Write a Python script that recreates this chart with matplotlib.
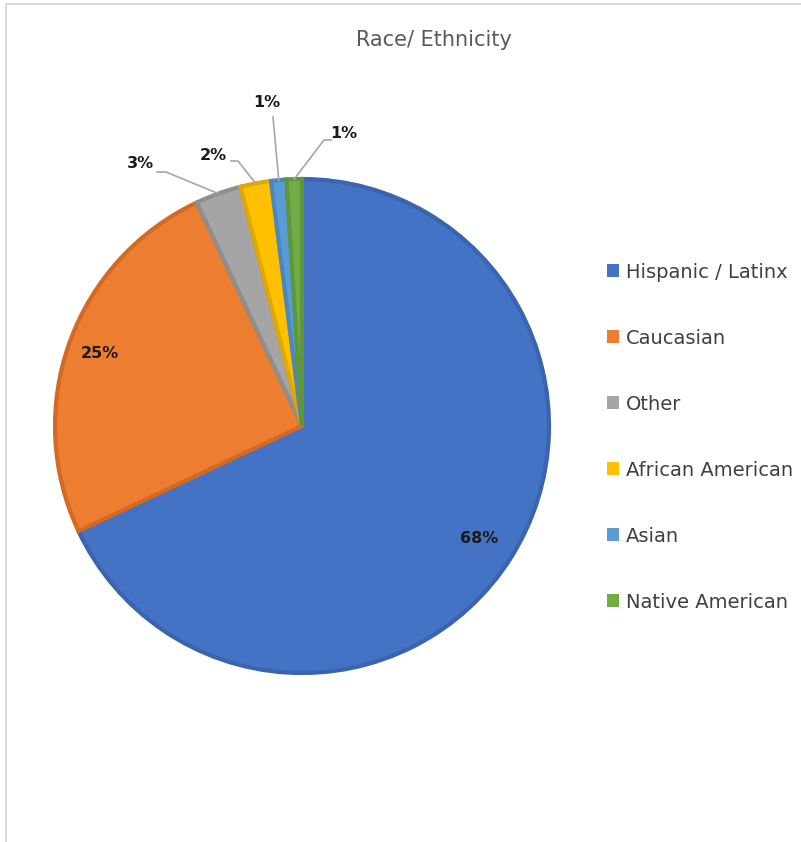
import numpy as np
import matplotlib
matplotlib.use("Agg")
import matplotlib.pyplot as plt
from matplotlib.patches import Patch
from matplotlib.lines import Line2D

categories = ["Hispanic / Latinx", "Caucasian", "Other", "African American",
              "Asian", "Native American"]
shares = [68, 25, 3, 2, 1, 1]
colors = ["#4472C4", "#ED7D31", "#A5A5A5", "#FFC000", "#5B9BD5", "#70AD47"]
edges = ["#3A64AE", "#D26A24", "#8E8E8E", "#E0A800", "#4C88C0", "#5F963A"]

W, H, DPI = 801, 842, 100
CX, CY, R = 302, 426, 247   # pie centre / radius in pixels


def px(x, y):
    # pixel position -> data units (pie radius = 1)
    return (x - CX) / R, (CY - y) / R


fig = plt.figure(figsize=(W / DPI, H / DPI), dpi=DPI)
ax = fig.add_axes([0, 0, 1, 1])

wedges, _ = ax.pie(shares, colors=colors, startangle=90, counterclock=False,
                   radius=1.0,
                   wedgeprops=dict(linewidth=3, edgecolor="none"))
for w, ec in zip(wedges, edges):
    w.set_edgecolor(ec)
    w.set_joinstyle("miter")

# pie() resets the limits, so map the axes onto the pixel grid afterwards
ax.set_xlim(px(0, 0)[0], px(W, 0)[0])
ax.set_ylim(px(0, H)[1], px(0, 0)[1])
ax.set_aspect("equal")
ax.axis("off")

# inside labels for the two large slices
inside = {0: 0.85, 1: 0.87}
# outside labels: text pixel position and elbow pixel position
outside = {2: ((140, 164), [(157, 172), (166, 172)]),
           3: ((213, 155), [(231, 161), (238, 161)]),
           4: ((267, 102), [(273, 117)]),
           5: ((344, 133), [(331, 140), (324, 140)])}

for i, w in enumerate(wedges):
    mid = np.deg2rad((w.theta1 + w.theta2) / 2)
    lab = f"{shares[i]:.0f}%"
    if i in inside:
        r = inside[i]
        ax.text(r * np.cos(mid), r * np.sin(mid), lab, ha="center", va="center",
                fontsize=11.5, fontweight="bold", color="#1a1a1a")
    else:
        (tx, ty), elbow = outside[i]
        pts = [px(*p) for p in elbow] + [(1.0 * np.cos(mid), 1.0 * np.sin(mid))]
        xs, ys = zip(*pts)
        ax.add_line(Line2D(xs, ys, color="#A6A6A6", lw=1.2, zorder=1))
        x, y = px(tx, ty)
        ax.text(x, y, lab, ha="center", va="center", fontsize=11.5,
                fontweight="bold", color="#1a1a1a")

fig.text(434 / W, 1 - 40 / H, "Race/ Ethnicity", ha="center", va="center",
         fontsize=15, color="#595959")

handles = [Patch(facecolor=c, edgecolor="none") for c in colors]
fig.legend(handles, categories, loc="upper left",
           bbox_to_anchor=(589 / W, 1 - 245 / H), frameon=False,
           fontsize=14, handlelength=0.65, handleheight=0.65, handletextpad=0.35,
           labelspacing=2.42, labelcolor="#404040")

# thin panel border along the top and left
fig.add_artist(Line2D([6 / W, 6 / W], [0, 1 - 4 / H], color="#D9D9D9", lw=1.5))
fig.add_artist(Line2D([6 / W, 1], [1 - 4 / H, 1 - 4 / H], color="#D9D9D9", lw=1.5))

fig.savefig("out.png", dpi=DPI, facecolor="white")
